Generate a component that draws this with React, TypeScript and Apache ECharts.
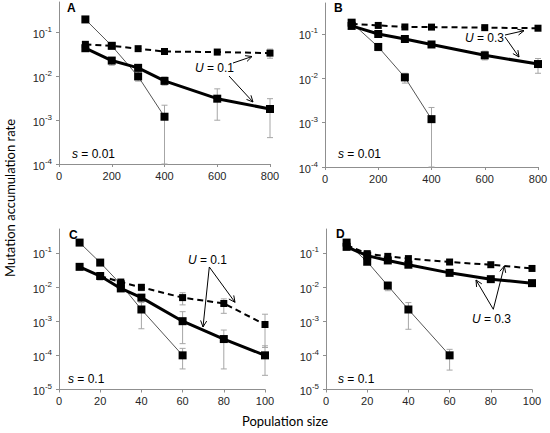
import React, { useEffect, useRef } from "react";
import * as echarts from "echarts";

// ---------- data ----------
const xAB = [100, 200, 300, 400, 600, 800];
const xCD = [10, 20, 30, 40, 60, 80, 100];
const xTicksAB = [0, 200, 400, 600, 800];
const xTicksCD = [0, 20, 40, 60, 80, 100];
const yTicksAB = [1e-4, 1e-3, 1e-2, 1e-1];
const yTicksCD = [1e-5, 1e-4, 1e-3, 1e-2, 1e-1];

// Panel A (s = 0.01, U = 0.1)
const aThin = [0.2, 0.05, 0.01, 0.0012];
const aThinHi = [null, null, 0.013, 0.0022];
const aThinLo = [null, null, 0.0078, 0.0001];
const aDash = [0.054, 0.05, 0.043, 0.037, 0.036, 0.034];
const aDashHi = [0.06, 0.056, 0.048, 0.041, 0.041, 0.042];
const aDashLo = [0.048, 0.044, 0.038, 0.033, 0.031, 0.026];
const aThick = [0.044, 0.023, 0.0157, 0.0079, 0.0031, 0.0018];
const aThickHi = [0.05, 0.027, 0.018, 0.0097, 0.0052, 0.0031];
const aThickLo = [0.039, 0.018, 0.013, 0.0063, 0.001, 0.0004];

// Panel B (s = 0.01, U = 0.3)
const bThin = [0.18, 0.051, 0.0105, 0.0012];
const bThinHi = [null, 0.06, 0.013, 0.0022];
const bThinLo = [null, 0.042, 0.0078, 0.0001];
const bDash = [0.17, 0.156, 0.144, 0.143, 0.139, 0.135];
const bDashHi = [null, null, null, null, null, null];
const bDashLo = [null, null, null, null, null, null];
const bThick = [0.152, 0.1, 0.077, 0.058, 0.033, 0.021];
const bThickHi = [null, 0.108, 0.083, 0.062, 0.041, 0.028];
const bThickLo = [null, 0.092, 0.071, 0.053, 0.026, 0.013];

// Panel C (s = 0.1, U = 0.1)
const cThin = [0.2, 0.052, 0.012, 0.0022, 0.0001];
const cThinHi = [null, 0.06, 0.014, 0.0045, 0.00016];
const cThinLo = [null, 0.045, 0.009, 0.0006, 0.00004];
const cDashX = [20, 30, 40, 60, 80, 100];
const cDash = [0.021, 0.014, 0.0098, 0.0049, 0.0033, 0.0008];
const cDashHi = [0.025, 0.016, 0.012, 0.0068, 0.0045, 0.0016];
const cDashLo = [0.017, 0.012, 0.0078, 0.003, 0.0017, 0.00017];
const cThick = [0.039, 0.021, 0.0091, 0.0049, 0.001, 0.0003, 0.0001];
const cThickHi = [null, 0.025, 0.011, 0.006, 0.0019, 0.00055, 0.00019];
const cThickLo = [null, 0.016, 0.0075, 0.0035, 0.00022, 0.00004, 0.000026];

// Panel D (s = 0.1, U = 0.3)
const dThin = [0.2, 0.055, 0.011, 0.0022, 0.0001];
const dThinHi = [null, null, 0.014, 0.0035, 0.00015];
const dThinLo = [null, null, 0.0078, 0.00058, 0.000037];
const dDash = [0.17, 0.095, 0.079, 0.068, 0.054, 0.045, 0.035];
const dThick = [0.15, 0.083, 0.06, 0.045, 0.026, 0.017, 0.013];

const AXIS = "#8f8f8f";
const ERR = "#a6a6a6";
const TXT = "#262626";
const FONT = "'Liberation Sans', Arial, sans-serif";

const pairs = (xs: number[], ys: number[]) => ys.map((y, i) => [xs[i], y]);
const errs = (xs: number[], hi: (number | null)[], lo: (number | null)[]) =>
  xs.map((x, i) => [x, lo[i], hi[i]]).filter((d) => d[1] != null && d[2] != null);

function yAxis(gridIndex: number, min: number, ticks: number[]) {
  return {
    type: "log",
    logBase: 10,
    gridIndex,
    min,
    max: 0.5,
    axisLine: { show: true, lineStyle: { color: AXIS, width: 1 } },
    axisTick: { show: true, length: 3, lineStyle: { color: AXIS }, customValues: ticks },
    splitLine: { show: false },
    axisLabel: {
      customValues: ticks,
      margin: 7,
      color: TXT,
      fontFamily: FONT,
      formatter: (v: number) => {
        const e = Math.round(Math.log10(v));
        if (Math.abs(Math.log10(v) - e) > 1e-6) return "";
        return `{b|10}{s|${e}}`;
      },
      rich: {
        b: { fontSize: 11, fontFamily: FONT, color: TXT, lineHeight: 14, verticalAlign: "bottom" },
        s: { fontSize: 8, fontFamily: FONT, color: TXT, lineHeight: 14, verticalAlign: "top", padding: [0, 0, 4, 0] },
      },
    },
  };
}

function xAxis(gridIndex: number, max: number, interval: number) {
  return {
    type: "value",
    gridIndex,
    min: 0,
    max,
    interval,
    axisLine: { show: true, onZero: false, lineStyle: { color: AXIS, width: 1 } },
    axisTick: { show: true, length: 3, lineStyle: { color: AXIS } },
    splitLine: { show: false },
    axisLabel: { fontSize: 11, color: TXT, fontFamily: FONT, margin: 6 },
  };
}

function errSeries(idx: number, data: any[]) {
  return {
    type: "custom",
    xAxisIndex: idx,
    yAxisIndex: idx,
    z: 1,
    silent: true,
    data,
    renderItem: (params: any, api: any) => {
      const x = api.value(0);
      const lo = api.coord([x, api.value(1)]);
      const hi = api.coord([x, api.value(2)]);
      const w = 3;
      const st = { stroke: ERR, lineWidth: 1 };
      return {
        type: "group",
        children: [
          { type: "line", shape: { x1: lo[0], y1: lo[1], x2: hi[0], y2: hi[1] }, style: st },
          { type: "line", shape: { x1: hi[0] - w, y1: hi[1], x2: hi[0] + w, y2: hi[1] }, style: st },
          { type: "line", shape: { x1: lo[0] - w, y1: lo[1], x2: lo[0] + w, y2: lo[1] }, style: st },
        ],
      };
    },
  };
}

function lineSeries(idx: number, data: number[][], kind: "thin" | "dash" | "thick") {
  const ls =
    kind === "thin"
      ? { color: "#555", width: 1, type: "solid" }
      : kind === "dash"
      ? { color: "#000", width: 2, type: [6, 4] }
      : { color: "#000", width: 3, type: "solid" };
  return {
    type: "line",
    xAxisIndex: idx,
    yAxisIndex: idx,
    data,
    z: kind === "thin" ? 2 : kind === "dash" ? 3 : 4,
    symbol: "rect",
    symbolSize: kind === "dash" ? 7 : 8,
    itemStyle: { color: "#000", borderWidth: 0 },
    lineStyle: ls,
    silent: true,
  };
}

function arrow(x1: number, y1: number, x2: number, y2: number) {
  const ang = Math.atan2(y2 - y1, x2 - x1);
  const L = 7;
  const a = 0.45;
  const p1 = [x2 - L * Math.cos(ang - a), y2 - L * Math.sin(ang - a)];
  const p2 = [x2 - L * Math.cos(ang + a), y2 - L * Math.sin(ang + a)];
  return [
    { type: "line", shape: { x1, y1, x2, y2 }, style: { stroke: "#000", lineWidth: 1 } },
    { type: "polyline", shape: { points: [p1, [x2, y2], p2] }, style: { stroke: "#000", lineWidth: 1, fill: null } },
  ];
}

function label(x: number, y: number, sym: string, rest: string) {
  return {
    type: "text",
    x,
    y,
    style: {
      text: `{i|${sym}}{n|${rest}}`,
      rich: {
        i: { fontStyle: "italic", fontSize: 12, fontFamily: FONT, fill: "#000" },
        n: { fontSize: 12, fontFamily: FONT, fill: "#000" },
      },
      align: "left",
      verticalAlign: "middle",
      textAlign: "left",
      textVerticalAlign: "middle",
    },
  };
}

function letter(x: number, y: number, t: string) {
  return {
    type: "text",
    x,
    y,
    style: {
      text: t,
      font: `bold 12px ${FONT}`,
      fill: "#000",
      align: "left",
      verticalAlign: "middle",
      textAlign: "left",
      textVerticalAlign: "middle",
    },
  };
}

export default function App() {
  const ref = useRef<HTMLDivElement>(null);
  useEffect(() => {
    if (!ref.current) return;
    const chart = echarts.init(ref.current, undefined, { renderer: "svg" });
    const grids = [
      { left: 59, top: 2, width: 211, height: 162 },
      { left: 325, top: 3, width: 213, height: 164 },
      { left: 59, top: 229, width: 206, height: 160.5 },
      { left: 326, top: 229, width: 206, height: 160.5 },
    ].map((g) => ({ ...g, containLabel: false, outerBoundsMode: "none", show: false }));

    const series: any[] = [
      errSeries(0, errs(xAB, aThinHi, aThinLo)),
      errSeries(0, errs(xAB, aDashHi, aDashLo)),
      errSeries(0, errs(xAB, aThickHi, aThickLo)),
      lineSeries(0, pairs(xAB, aThin), "thin"),
      lineSeries(0, pairs(xAB, aDash), "dash"),
      lineSeries(0, pairs(xAB, aThick), "thick"),

      errSeries(1, errs(xAB, bThinHi, bThinLo)),
      errSeries(1, errs(xAB, bDashHi, bDashLo)),
      errSeries(1, errs(xAB, bThickHi, bThickLo)),
      lineSeries(1, pairs(xAB, bThin), "thin"),
      lineSeries(1, pairs(xAB, bDash), "dash"),
      lineSeries(1, pairs(xAB, bThick), "thick"),

      errSeries(2, errs(xCD, cThinHi, cThinLo)),
      errSeries(2, errs(cDashX, cDashHi, cDashLo)),
      errSeries(2, errs(xCD, cThickHi, cThickLo)),
      lineSeries(2, pairs(xCD, cThin), "thin"),
      lineSeries(2, pairs(cDashX, cDash), "dash"),
      lineSeries(2, pairs(xCD, cThick), "thick"),

      errSeries(3, errs(xCD, dThinHi, dThinLo)),
      lineSeries(3, pairs(xCD, dThin), "thin"),
      lineSeries(3, pairs(xCD, dDash), "dash"),
      lineSeries(3, pairs(xCD, dThick), "thick"),
    ];

    const graphics: any[] = [
      letter(67, 8, "A"),
      letter(334, 8, "B"),
      letter(69, 235, "C"),
      letter(336, 234, "D"),
      label(72, 154, "s", " = 0.01"),
      label(338, 154, "s", " = 0.01"),
      label(68, 379, "s", " = 0.1"),
      label(338, 379, "s", " = 0.1"),
      label(195, 68, "U", " = 0.1"),
      ...arrow(233, 63, 252, 56.5),
      ...arrow(229, 76, 253, 102),
      label(465, 38, "U", " = 0.3"),
      ...arrow(505, 35, 524, 30.7),
      ...arrow(505, 37, 519, 57),
      label(188, 259.5, "U", " = 0.1"),
      ...arrow(209.3, 267, 235, 302.3),
      ...arrow(209.3, 267, 203, 327),
      label(472, 318.5, "U", " = 0.3"),
      ...arrow(493.3, 309.3, 476, 280),
      ...arrow(493.3, 309.3, 504.3, 266),
      {
        type: "text",
        x: 10,
        y: 198,
        rotation: Math.PI / 2,
        style: {
          text: "Mutation accumulation rate",
          font: "13px Lato, 'Open Sans', sans-serif",
          fill: "#000",
          align: "center",
          verticalAlign: "middle",
          textAlign: "center",
          textVerticalAlign: "middle",
        },
      },
      {
        type: "text",
        x: 285,
        y: 421,
        style: {
          text: "Population size",
          font: "13px Lato, 'Open Sans', sans-serif",
          fill: "#000",
          align: "center",
          verticalAlign: "middle",
          textAlign: "center",
          textVerticalAlign: "middle",
        },
      },
    ];

    chart.setOption({
      animation: false,
      backgroundColor: "#fff",
      grid: grids,
      xAxis: [xAxis(0, 800, 200), xAxis(1, 800, 200), xAxis(2, 100, 20), xAxis(3, 100, 20)],
      yAxis: [yAxis(0, 1e-4, yTicksAB), yAxis(1, 1e-4, yTicksAB), yAxis(2, 1e-5, yTicksCD), yAxis(3, 1e-5, yTicksCD)],
      series,
      graphic: { elements: graphics },
    });
    return () => chart.dispose();
  }, []);
  return (
    <div
      ref={ref}
      style={{ position: "fixed", left: 0, top: 0, width: 550, height: 433, background: "#fff" }}
    />
  );
}
